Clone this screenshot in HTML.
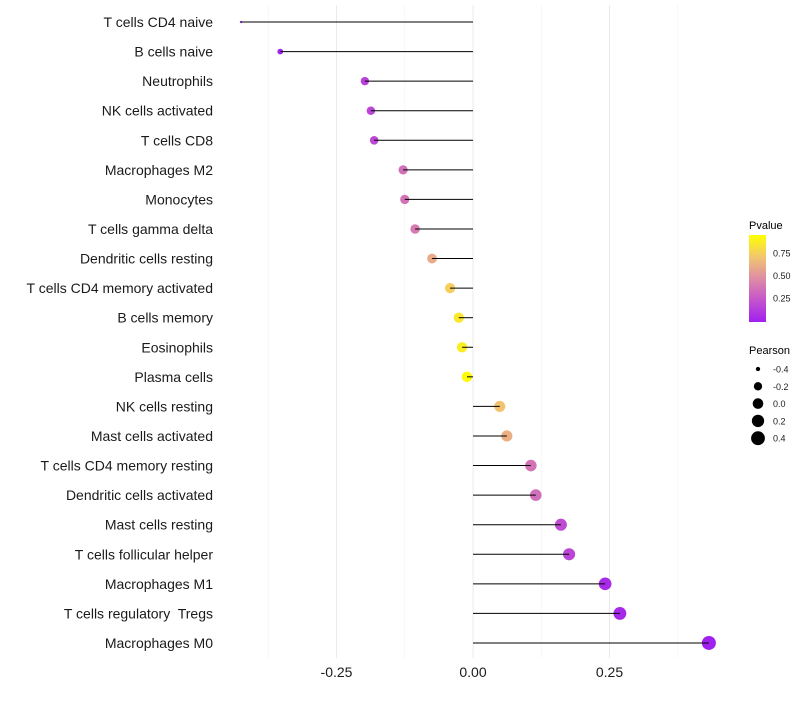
<!DOCTYPE html>
<html><head><meta charset="utf-8"><style>
body{margin:0;background:#fff;font-family:"Liberation Sans",sans-serif;}
svg text{font-family:"Liberation Sans",sans-serif;white-space:pre;}
</style></head><body>
<svg id="chart" width="800" height="700"></svg>
<script>
const categories=["T cells CD4 naive","B cells naive","Neutrophils","NK cells activated","T cells CD8","Macrophages M2","Monocytes","T cells gamma delta","Dendritic cells resting","T cells CD4 memory activated","B cells memory","Eosinophils","Plasma cells","NK cells resting","Mast cells activated","T cells CD4 memory resting","Dendritic cells activated","Mast cells resting","T cells follicular helper","Macrophages M1","T cells regulatory  Tregs","Macrophages M0"];
const pearson=[-0.425,-0.353,-0.198,-0.187,-0.181,-0.128,-0.125,-0.106,-0.075,-0.042,-0.026,-0.020,-0.011,0.049,0.062,0.106,0.115,0.161,0.176,0.242,0.269,0.432];
const pvalue=[0.0,0.02,0.15,0.17,0.18,0.35,0.37,0.4,0.6,0.75,0.85,0.88,0.93,0.7,0.62,0.37,0.35,0.2,0.17,0.05,0.04,0.0];
const xTicks=[-0.25,0,0.25];
const xTickLabels=["-0.25","0.00","0.25"];
const pLegendTicks=[0.25,0.5,0.75];
const pLegendLabels=["0.25","0.50","0.75"];
const sizeLegend=[-0.4,-0.2,0.0,0.2,0.4];
const sizeLegendLabels=["-0.4","-0.2","0.0","0.2","0.4"];

const NS="http://www.w3.org/2000/svg";
const svg=document.getElementById('chart');
const x=v=>473+v*546;
const y=i=>22+i*29.57;
const pMin=Math.min(...pearson),pMax=Math.max(...pearson);
const r=v=>{const t=Math.min(1,Math.max(0,(v-pMin)/(pMax-pMin)));return 1.17*(1+5*Math.sqrt(t));};
const stops=[[0,[160,32,240]],[0.25,[196,84,204]],[0.5,[222,140,165]],[0.75,[242,198,110]],[1,[255,255,0]]];
function col(p){const t=Math.min(1,Math.max(0,p/0.95));for(let k=0;k<stops.length-1;k++){const a=stops[k],b=stops[k+1];if(t<=b[0]){const f=(t-a[0])/(b[0]-a[0]);const c=a[1].map((v,j)=>Math.round(v+(b[1][j]-v)*f));return `rgb(${c})`;}}return 'rgb(255,255,0)';}
function mk(tag,attrs,name,txt){const e=document.createElementNS(NS,tag);for(const k in attrs)e.setAttribute(k,attrs[k]);


if(txt!==undefined)e.textContent=txt;svg.appendChild(e);return e;}
[-0.375,-0.125,0.125,0.375].forEach(v=>mk('line',{x1:x(v),x2:x(v),y1:5,y2:658,stroke:'#f3f3f3','stroke-width':0.6},'minor-gridline'));
xTicks.forEach((v,i)=>{mk('line',{x1:x(v),x2:x(v),y1:5,y2:658,stroke:'#ebebeb','stroke-width':1},'major-gridline');
mk('text',{x:x(v),y:677,'text-anchor':'middle','font-size':14,fill:'#1a1a1a'},'x-tick-label',xTickLabels[i]);});
categories.forEach((c,i)=>{
mk('circle',{cx:x(pearson[i]),cy:y(i),r:r(pearson[i]),fill:col(pvalue[i])},'point');
mk('line',{x1:x(0),x2:x(pearson[i]),y1:y(i),y2:y(i),stroke:'#000','stroke-width':1},'segment');
mk('text',{x:213,y:y(i)+5,'text-anchor':'end','font-size':14,fill:'#1a1a1a'},'y-category-label',c);});
mk('text',{x:749,y:229,'font-size':11,fill:'#000'},'pvalue-legend-title','Pvalue');
const g=document.createElementNS(NS,'defs');g.innerHTML='<linearGradient id="pg" x1="0" y1="1" x2="0" y2="0">'+stops.map(s=>`<stop offset="${s[0]}" stop-color="rgb(${s[1]})"/>`).join('')+'</linearGradient>';svg.appendChild(g);
mk('rect',{x:749,y:235,width:17,height:87,fill:'url(#pg)'},'pvalue-colorbar');
pLegendTicks.forEach((v,i)=>{const yy=322-(v+0.02)/0.97*87;
mk('text',{x:773,y:yy+3.5,'font-size':9,fill:'#1a1a1a'},'pvalue-legend-label',pLegendLabels[i]);});
mk('text',{x:749,y:354,'font-size':11,fill:'#000'},'pearson-legend-title','Pearson');
sizeLegend.forEach((v,i)=>{const yy=369+i*17.3;mk('circle',{cx:758,cy:yy,r:r(v),fill:'#000'},'pearson-legend-key');
mk('text',{x:773,y:yy+3.5,'font-size':9,fill:'#1a1a1a'},'pearson-legend-label',sizeLegendLabels[i]);});
</script>
</body></html>
